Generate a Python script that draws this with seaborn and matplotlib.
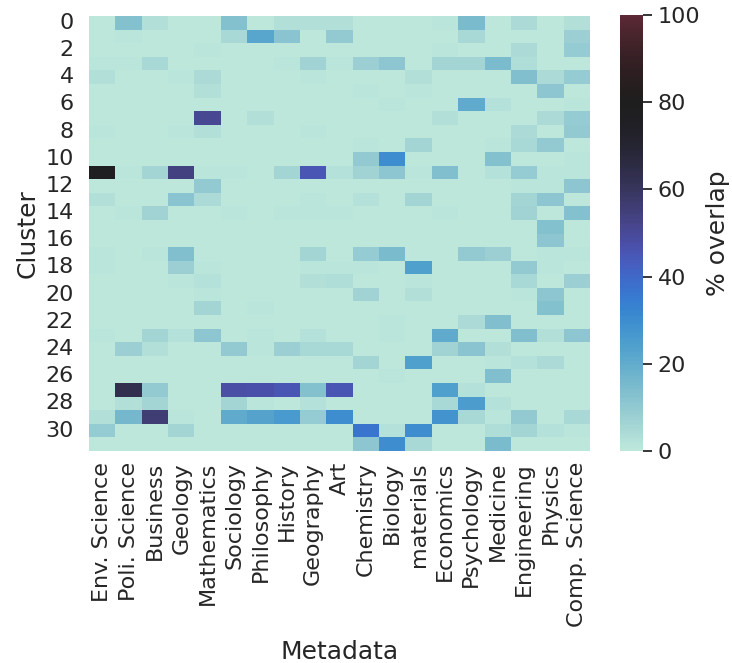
import matplotlib
matplotlib.use("Agg")
import matplotlib.pyplot as plt
import pandas as pd
import seaborn as sns

# Metadata fields (columns of the heatmap)
fields = ["Env. Science", "Poli. Science", "Business", "Geology", "Mathematics",
          "Sociology", "Philosophy", "History", "Geography", "Art", "Chemistry",
          "Biology", "materials", "Economics", "Psychology", "Medicine",
          "Engineering", "Physics", "Comp. Science"]

clusters = list(range(32))

# % overlap of each cluster (0..31) with each metadata field
env_science = [0, 0, 0, 1.5, 3, 0, 0, 0, 1.5, 0, 0, 78, 0, 3, 0, 0,
               0, 1.5, 1.5, 0, 0, 0, 0, 1.5, 0, 0, 0, 0, 0, 3, 9, 0]
poli_science = [13, 1, 0, 1, 0, 0, 0, 0, 0, 0, 0, 1, 0, 0, 1.5, 0,
                0, 0, 0, 0, 0, 0, 0, 0, 8, 0, 0, 63, 3, 16, 0, 0]
business = [3, 0, 0, 5, 0, 0, 0, 0, 0, 0, 0, 6, 0, 0, 7, 0,
            0, 1, 0, 0, 0, 0, 0, 6, 3, 0, 0, 10, 6, 56, 0, 0]
geology = [0, 0, 0, 0, 1, 0, 0, 0, 1, 0, 0, 54, 0, 12, 0, 0,
           0, 14, 8, 1, 0, 0, 0, 2.5, 0, 0, 0, 0, 0, 1, 6, 0]
mathematics = [0, 0, 1.5, 0, 4, 3, 0, 51, 3, 0, 0, 1, 10, 4, 0, 0,
               0, 0, 1, 2.5, 1, 6, 0, 11, 0, 0, 0, 0, 0, 0, 0, 0]
sociology = [13, 5, 0, 0, 0, 0, 0, 0, 0, 0, 0, 1.5, 0, 0, 1, 0,
             0, 0, 0, 0, 0, 0, 0, 0, 10, 0, 0, 48, 6, 20, 0, 0]
philosophy = [0, 22, 0, 0, 0, 0, 0, 3, 0, 0, 0, 0, 0, 0, 0, 0,
              0, 0, 0, 0, 0, 1, 0, 1.5, 1.5, 0, 0, 47, 1.5, 23, 0, 0]
history = [3, 12, 0, 1, 0, 0, 0, 0, 0, 0, 0, 6, 0, 0, 1, 0,
           0, 0, 0, 0, 0, 0, 0, 0, 8, 0, 0.5, 45, 0, 26, 0, 0]
geography = [3, 0, 0, 7, 1, 0, 0, 0, 1, 0, 0, 45, 0, 1, 1.5, 0,
             0, 6, 1.5, 3, 0, 0, 0, 2.5, 5, 0, 0.5, 13, 2, 9, 0, 0]
art = [3, 10, 0, 1, 0, 0, 0, 0, 0, 0, 0, 2.5, 0, 0, 1.5, 0,
       0, 0, 1, 3.5, 0, 0, 0, 0, 5, 0, 0.5, 45, 0, 30, 0, 0]
chemistry = [0, 0, 0, 8, 0, 1, 0, 0, 0, 1.5, 10, 7, 0, 2.5, 0, 0,
             0, 9, 1.5, 0, 7, 0, 0, 0.5, 0, 6, 0, 0, 0, 0, 37, 11]
biology = [0, 0, 0, 11, 0, 0, 1, 0, 0, 0, 30, 11, 0, 0, 0, 0,
           0, 15, 0, 0, 0, 0, 1, 1, 0, 0, 1, 0, 0, 0.5, 2.5, 30]
materials = [0, 0, 0, 0, 3, 1, 0, 0, 0, 6, 0, 1, 0, 6, 0, 0,
             0, 0.5, 24, 1, 3, 0, 0, 0, 0, 24, 0, 0, 0, 0, 30, 5]
economics = [1.5, 0, 1, 6, 0, 0, 0, 3, 0, 0, 0, 14, 0, 0, 1, 0,
             0, 0, 0, 0, 0, 0, 0, 20, 7, 0, 0, 24, 5, 28, 0, 0]
psychology = [15, 5, 0, 6, 0, 0, 20, 0, 0, 0, 0, 0, 0, 0, 0, 0,
              0, 9.5, 0, 0, 0, 0, 4, 0, 12, 0, 0.5, 2.5, 25, 5, 0, 0]
medicine = [0, 0, 0, 15, 0, 0, 2.5, 0, 0, 1, 13, 2, 0, 0, 0, 0,
            0, 8, 0.5, 0, 0.5, 0, 14, 0.5, 3, 1, 14, 0.5, 2, 1.5, 3.5, 15]
engineering = [4, 0, 4, 3.5, 14, 0, 0, 0, 4, 5, 0, 9, 1, 6, 7, 0,
               0, 0, 10, 5, 1, 0, 0, 14, 0, 2.5, 0, 0.5, 0, 10, 6, 0]
physics = [0, 0, 0, 0, 4, 11, 0, 4, 0, 10, 0, 1, 1, 11, 0, 13,
           11, 1, 1, 0, 11, 13, 0, 3, 0, 4, 0, 0, 0, 0, 2.5, 0]
comp_science = [3, 8, 9, 0, 9, 0, 1, 9, 10, 0, 1, 1, 11, 0, 13, 0,
                0, 1.5, 0.5, 8, 0, 0, 0, 11, 0, 0, 0, 0, 0.5, 5, 1, 0]

columns = [env_science, poli_science, business, geology, mathematics,
           sociology, philosophy, history, geography, art, chemistry,
           biology, materials, economics, psychology, medicine,
           engineering, physics, comp_science]

df = pd.DataFrame(dict(zip(fields, columns)), index=clusters)

sns.set_theme(style="white", font_scale=1.5)

W, H = 732, 663
fig = plt.figure(figsize=(W / 100, H / 100), dpi=100)
ax = fig.add_axes([89 / W, 1 - 451 / H, 501 / W, 435 / H])
cax = fig.add_axes([620 / W, 1 - 451 / H, 23 / W, 436 / H])

sns.heatmap(df, ax=ax, cbar_ax=cax, cmap="icefire", center=80,
            vmin=0, vmax=100, xticklabels=True, yticklabels=2,
            cbar_kws={"label": "% overlap",
                      "ticks": [0, 20, 40, 60, 80, 100]})

ax.set_xlabel("Metadata", fontsize=18, labelpad=9)
ax.set_ylabel("Cluster", fontsize=18)
ax.tick_params(axis="x", rotation=90, length=0, pad=8, labelsize=16)
ax.tick_params(axis="y", rotation=0, length=0, pad=11, labelsize=16)
cax.tick_params(axis="y", length=6.5, width=1.3, color="#262626",
                pad=4, labelsize=16)
cax.set_ylabel("% overlap", fontsize=18, labelpad=4)

fig.savefig("out.png", dpi=100)
